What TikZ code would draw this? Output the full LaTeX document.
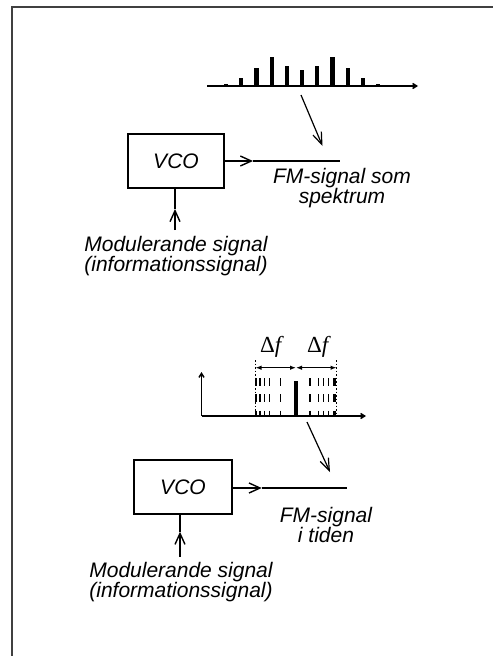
\documentclass[tikz,border=0pt]{standalone}
\usepackage{fontspec}
\setmainfont{Liberation Sans}
\newfontfamily\deltafont{Liberation Serif}
\usetikzlibrary{arrows.meta}

\tikzset{
  lbl/.style={font=\fontsize{21}{18.5}\selectfont\itshape, align=center, inner sep=0pt},
  vco/.style={draw, line width=2pt, minimum width=96pt, minimum height=54pt, inner sep=0pt,
              font=\fontsize{21}{21}\selectfont\itshape},
  sig/.style={line width=2pt, -{Straight Barb[length=11pt, width=10pt, line width=1.4pt]}},
  wire/.style={line width=2pt},
  pointer/.style={line width=1.2pt, -{Straight Barb[length=12pt, width=9pt, line width=1.2pt]}},
  axis/.style={line width=1.5pt, -{Straight Barb[length=4pt, width=5pt]}},
  delta/.style={line width=1.2pt, {Latex[length=6pt, width=4.5pt]}-{Latex[length=6pt, width=4.5pt]}},
  dflbl/.style={font=\fontsize{23}{23}\deltafont, inner sep=0pt}
}

\begin{document}
\begin{tikzpicture}[x=1pt, y=-1pt]
  \useasboundingbox (0,0) rectangle (493,656);
  % Frame
  \draw[line width=2pt, black!75] (12,656) -- (12,7) -- (493,7);

  % Spectrum (top)
  \draw[axis] (207,86) -- (418,86);
  \foreach \i/\h in {0/2, 1/7.7, 2/18, 3/29, 4/20, 5/16, 6/20, 7/29, 8/18, 9/7.7, 10/2.3, 11/0.8} {
    \fill (226+15.2*\i-2.1, 86) rectangle (226+15.2*\i+2.1, 86-\h);
  }
  \coordinate (spA) at (301,95);
  \coordinate (fmTipA) at (322.5,146);
  \draw[pointer] (spA) -- (fmTipA);

  % Block (top)
  \node[vco] (vcoA) at (176,161) {VCO};
  \coordinate (tipA) at (253,161);
  \coordinate (outA) at (340,161);
  \draw[sig] (vcoA.east |- tipA) -- (tipA);
  \draw[wire] (tipA) -- (outA);
  \node[lbl] (fmA) at (342,188) {FM-signal som\\spektrum};
  \node[lbl] (modA) at (176,256) {Modulerande signal\\(informationssignal)};
  \coordinate (inA) at (175,230);
  \coordinate (inTipA) at (175,209);
  \draw[sig] (inA) -- (inTipA);
  \draw[wire] (inTipA) -- (vcoA.south -| inA);

  % Time plot (bottom)
  \coordinate (org) at (201.5,416);
  \draw[axis] (org) -- (201.5,372);
  \draw[axis] (org) -- (366,416);
  \fill (294.2,380.7) rectangle (297.8,416);
  \foreach \x/\w in {256/2.6, 260/1.6, 264.3/1.6, 269.3/1.6, 280.3/1.6,
                     310/1.6, 318.3/1.6, 323.3/1.6, 328.3/1.6, 334.3/2.6} {
    \draw[line width=\w pt, dash pattern=on 8pt off 8.3pt] (\x,378) -- (\x,416);
  }
  \foreach \x in {255.5, 336.5} {
    \draw[line width=0.6pt, dash pattern=on 1.5pt off 2pt] (\x,360) -- (\x,416);
  }
  \coordinate (dMid) at (296,367.7);
  \coordinate (dL) at (255.5,367.7);
  \coordinate (dR) at (336.5,367.7);
  \draw[delta] (dL) -- (dMid);
  \draw[delta] (dMid) -- (dR);
  \node[dflbl] (dfL) at (272,347) {Δ\textit{f}};
  \node[dflbl] (dfR) at (319,347) {Δ\textit{f}};
  \coordinate (spB) at (307,422);
  \coordinate (fmTipB) at (330,472);
  \draw[pointer] (spB) -- (fmTipB);

  % Block (bottom)
  \node[vco, minimum width=97.4pt] (vcoB) at (183,487) {VCO};
  \coordinate (tipB) at (261.7,488);
  \coordinate (outB) at (346.7,488);
  \draw[sig] (vcoB.east |- tipB) -- (tipB);
  \draw[wire] (tipB) -- (outB);
  \node[lbl] (fmB) at (326,525) {FM-signal\\i tiden};
  \node[lbl] (modB) at (181,582) {Modulerande signal\\(informationssignal)};
  \coordinate (inB) at (180,556.7);
  \coordinate (inTipB) at (180,531.7);
  \draw[sig] (inB) -- (inTipB);
  \draw[wire] (inTipB) -- (vcoB.south -| inB);
\end{tikzpicture}
\end{document}
